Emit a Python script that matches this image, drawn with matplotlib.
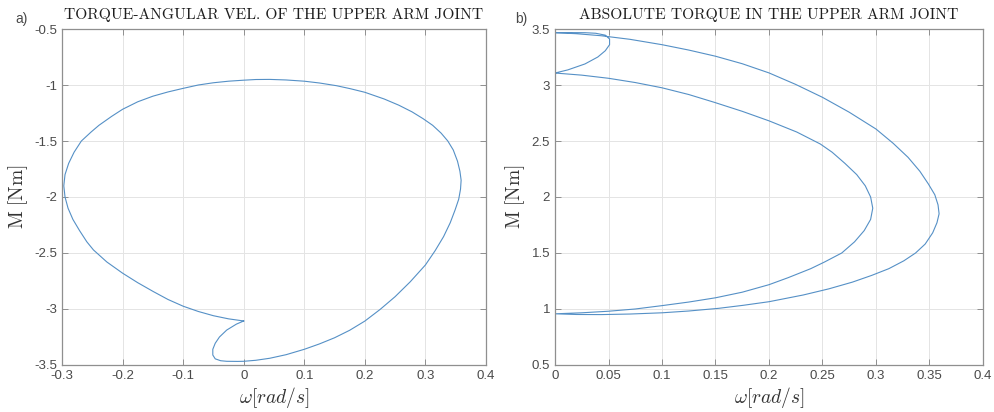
import matplotlib.pyplot as plt
from matplotlib.ticker import FuncFormatter
import numpy as np

# angular velocity [rad/s] and torque [Nm] along one cycle, read off plot a)
omega = [0.000, -0.012, -0.028, -0.040, -0.047, -0.051, -0.051, -0.047, -0.038, -0.028,
         -0.010, 0.000, 0.020, 0.043, 0.070, 0.100, 0.125, 0.150, 0.175, 0.200,
         0.225, 0.250, 0.275, 0.300, 0.316, 0.330, 0.341, 0.349, 0.355, 0.358,
         0.359, 0.357, 0.353, 0.346, 0.337, 0.326, 0.312, 0.296, 0.278, 0.256,
         0.232, 0.200, 0.176, 0.153, 0.125, 0.100, 0.070, 0.043, 0.020, 0.000,
         -0.025, -0.050, -0.075, -0.100, -0.125, -0.150, -0.175, -0.200, -0.218, -0.239,
         -0.252, -0.268, -0.280, -0.289, -0.295, -0.297, -0.295, -0.290, -0.282, -0.271,
         -0.259, -0.248, -0.226, -0.200, -0.175, -0.149, -0.125, -0.100, -0.075, -0.050,
         -0.025, 0.000]
torque = [-3.107, -3.135, -3.188, -3.250, -3.306, -3.360, -3.411, -3.445, -3.462, -3.467,
          -3.468, -3.467, -3.458, -3.440, -3.408, -3.360, -3.312, -3.257, -3.190, -3.108,
          -3.005, -2.890, -2.757, -2.607, -2.480, -2.354, -2.230, -2.116, -2.020, -1.930,
          -1.850, -1.770, -1.680, -1.580, -1.500, -1.430, -1.360, -1.300, -1.240, -1.180,
          -1.125, -1.065, -1.033, -1.006, -0.982, -0.966, -0.955, -0.950, -0.951, -0.957,
          -0.966, -0.980, -1.000, -1.030, -1.062, -1.100, -1.150, -1.217, -1.280, -1.360,
          -1.420, -1.500, -1.600, -1.700, -1.800, -1.900, -2.000, -2.100, -2.200, -2.300,
          -2.400, -2.473, -2.580, -2.680, -2.765, -2.845, -2.915, -2.975, -3.022, -3.060,
          -3.088, -3.107]

titles = ['TORQUE-ANGULAR VEL. OF THE UPPER ARM JOINT', 'ABSOLUTE TORQUE IN THE UPPER ARM JOINT']
panel_tags = ['a)', 'b)']

plt.rcParams['mathtext.fontset'] = 'cm'
plt.rcParams['axes.unicode_minus'] = False
plt.rcParams['font.family'] = ['Liberation Sans', 'DejaVu Sans']

line_col = '#5590c6'
axis_col = '#8f8f8f'
text_col = '#4a4a4a'

fig = plt.figure(figsize=(9.95, 4.12), dpi=100)
ax1 = fig.add_axes([0.0623, 0.1141, 0.4261, 0.8155])
ax2 = fig.add_axes([0.5578, 0.1141, 0.4301, 0.8155])

w = np.array(omega)
m = np.array(torque)
ax1.plot(w, m, color=line_col, lw=0.8)
# b) is the same cycle in absolute values
ax2.plot(np.abs(w), np.abs(m), color=line_col, lw=0.8)

ax1.set_xlim(-0.3, 0.4)
ax1.set_ylim(-3.5, -0.5)
ax1.set_xticks(np.arange(-0.3, 0.41, 0.1))
ax1.set_yticks(np.arange(-3.5, -0.49, 0.5))
ax2.set_xlim(0, 0.4)
ax2.set_ylim(0.5, 3.5)
ax2.set_xticks(np.arange(0, 0.41, 0.05))
ax2.set_yticks(np.arange(0.5, 3.51, 0.5))

fmt = FuncFormatter(lambda v, p: f'{round(v, 4):g}')
for ax, title in zip([ax1, ax2], titles):
    ax.xaxis.set_major_formatter(fmt)
    ax.yaxis.set_major_formatter(fmt)
    ax.grid(True, color='#e4e4e4', lw=0.7)
    ax.set_axisbelow(True)
    for s in ax.spines.values():
        s.set_color(axis_col)
        s.set_linewidth(0.9)
    ax.tick_params(direction='in', length=4, width=0.7, color=axis_col,
                   labelcolor=text_col, labelsize=9.5, top=True, right=True)
    ax.set_title(title, family='cmr10', fontsize=11.2, color='#1e1e1e', pad=7)
    ax.set_xlabel(r'$\omega[rad/s]$', fontsize=14, color='#333333', labelpad=2)
    ax.set_ylabel(r'$\mathrm{M\ [Nm]}$', fontsize=14, color='#333333', labelpad=3)

fig.text(0.015, 0.945, panel_tags[0], fontsize=10, color=text_col)
fig.text(0.5176, 0.945, panel_tags[1], fontsize=10, color=text_col)

fig.savefig('out.png', dpi=100)
